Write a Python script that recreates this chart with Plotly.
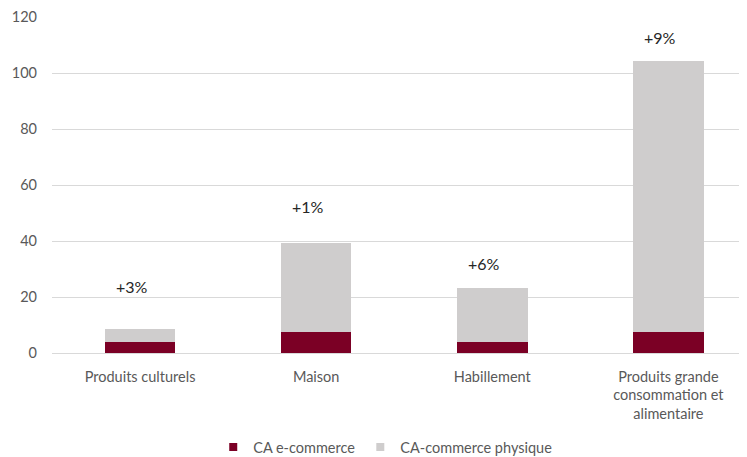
import plotly.graph_objects as go

categories = ["Produits culturels", "Maison", "Habillement",
              "Produits grande<br>consommation et<br>alimentaire"]
ecommerce = [4.0, 7.4, 4.0, 7.4]
physique = [4.5, 31.9, 19.3, 96.8]
growth_labels = ["+3%", "+1%", "+6%", "+9%"]
label_y = [23.6, 52.2, 31.8, 112.6]
y_ticks = [0, 20, 40, 60, 80, 100, 120]

series_names = ["CA e-commerce", "CA-commerce physique"]
series_colors = ["#7b0025", "#cfcdcd"]

font_family = "Lato, Open Sans, Arial, sans-serif"

fig = go.Figure()
for vals, name, col in zip([ecommerce, physique], series_names, series_colors):
    fig.add_trace(go.Bar(x=categories, y=vals, name=name, showlegend=False,
                         marker=dict(color=col, line=dict(width=0)), width=0.40))
# legend-only markers (small squares like the reference)
for name, col in zip(series_names, series_colors):
    fig.add_trace(go.Scatter(x=[None], y=[None], mode="markers", name=name,
                             marker=dict(symbol="square", size=8, color=col)))

for c, t, yy in zip(categories, growth_labels, label_y):
    fig.add_annotation(x=c, y=yy, text=t, showarrow=False, xshift=-8,
                       font=dict(size=16, color="#262626", family=font_family))

fig.update_layout(
    width=747, height=457,
    barmode="stack",
    plot_bgcolor="white", paper_bgcolor="white",
    margin=dict(l=44, r=10, t=9, b=112, autoexpand=False),
    font=dict(family=font_family, size=14, color="#595959"),
    showlegend=True,
    legend=dict(orientation="h", xref="container", yref="paper",
                x=0.505, xanchor="center", y=-0.280, yanchor="middle",
                font=dict(size=14.5, color="#595959"), traceorder="normal",
                itemwidth=30),
    bargap=0.6,
)
fig.update_xaxes(range=[-0.5, 3.435], showgrid=False, showline=False,
                 tickfont=dict(size=14.5, color="#595959"), ticks="",
                 ticklabelstandoff=13)
fig.update_yaxes(range=[0, 120], tickvals=y_ticks, showgrid=True,
                 gridcolor="#d9d9d9", gridwidth=1, zeroline=True,
                 zerolinecolor="#d9d9d9", zerolinewidth=1, showline=False,
                 tickfont=dict(size=14.5, color="#595959"), ticklabelstandoff=14)

fig.write_html("out.html")
